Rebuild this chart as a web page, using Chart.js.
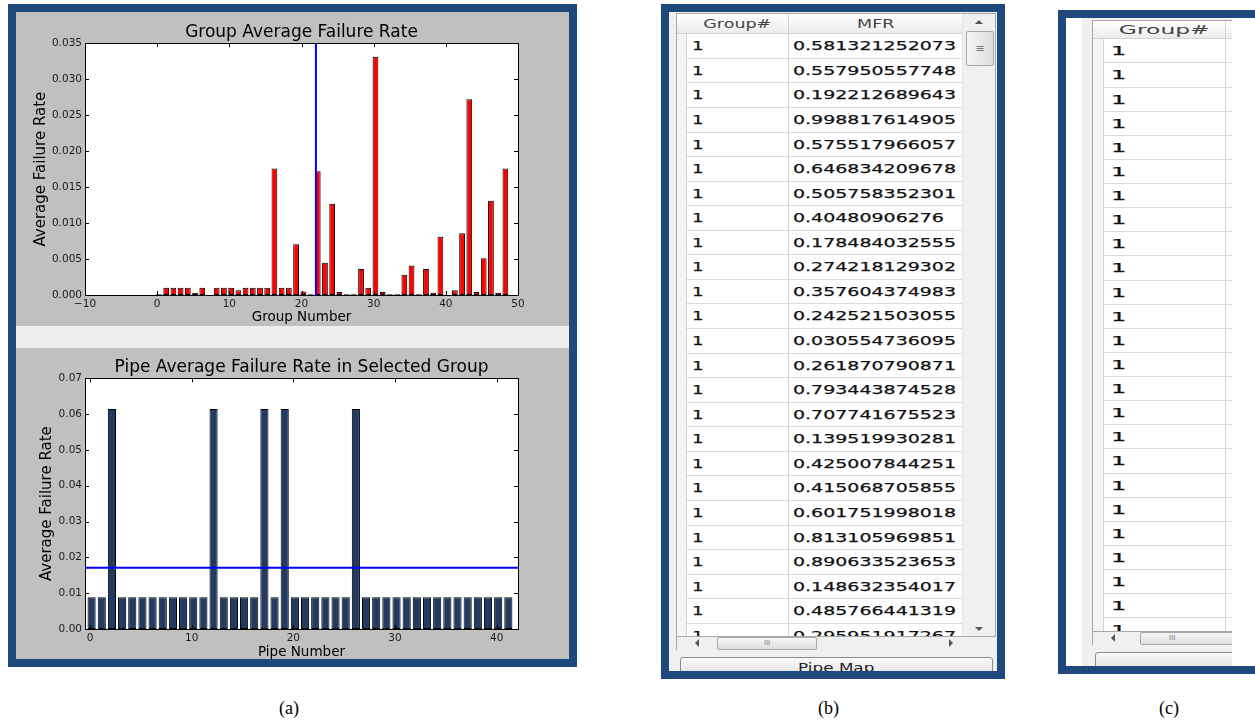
<!DOCTYPE html>
<html>
<head>
<meta charset="utf-8">
<title>Group / pipe average failure rate</title>
<script src="https://cdn.jsdelivr.net/npm/chart.js@4.4.1/dist/chart.umd.min.js"></script>
<style>
  body { margin:0; width:1255px; height:724px; background:#fff; position:relative; overflow:hidden; font-family:"DejaVu Sans", sans-serif; }
  .abs { position:absolute; box-sizing:border-box; }
  .frame { position:absolute; box-sizing:border-box; border:8px solid #1f497d; overflow:hidden; }
  #panelA { left:8px; top:4px; width:569px; height:663px; background:#c0c0c0; }
  #topBox { position:absolute; left:0; top:0; width:553px; height:314px; overflow:hidden; }
  #splitter { position:absolute; left:0; top:314px; width:553px; height:22px; background:#efefef; }
  #botBox { position:absolute; left:0; top:336px; width:553px; height:311px; overflow:hidden; }
  #panelB { left:661px; top:4px; width:344px; height:675px; background:#f0f0f0; }
  #panelC { left:1058px; top:10px; width:205px; height:664px; background:#fff; }
  .hdr { background:linear-gradient(#ffffff, #ececec); border-bottom:1px solid #d2d2d2; }
  .cell { position:absolute; white-space:nowrap; color:#111; -webkit-text-stroke:0.25px #111; }
  .sx { display:inline-block; transform-origin:left center; }
  .sc { display:inline-block; transform-origin:center center; }
  .btn { border:1px solid #8c8c8c; border-radius:3px; background:linear-gradient(#fafafa, #dcdcdc); text-align:center; color:#222; font-size:12px; line-height:20px; }
  .lbl { position:absolute; top:698px; font-family:"Liberation Serif", serif; font-size:18px; color:#000; }
</style>
</head>
<body>
<div id="panelA" class="frame">
  <div id="topBox"><canvas id="groupChart" width="553" height="314" style="width:553px;height:314px"></canvas></div>
  <div id="splitter"></div>
  <div id="botBox"><canvas id="pipeChart" width="553" height="318" style="width:553px;height:318px"></canvas></div>
</div>
<div id="panelB" class="frame"></div>
<div id="panelC" class="frame"></div>
<div class="lbl" style="left:279px">(a)</div>
<div class="lbl" style="left:818px">(b)</div>
<div class="lbl" style="left:1159px">(c)</div>

<script>
// ---- group chart data (top) ----
const groupNums = [0,1,2,3,4,5,6,7,8,9,10,11,12,13,14,15,16,17,18,19,20,21,22,23,24,
  25,26,27,28,29,30,31,32,33,34,35,36,37,38,39,40,41,42,43,44,45,46,47,48];
const groupRate = [0.0001,0.001,0.001,0.001,0.001,0.0003,0.001,0,0.001,0.001,0.001,0.00065,
  0.001,0.001,0.001,0.001,0.0176,0.001,0.001,0.00704,0.0005,0.0001,0.0172,0.0045,0.0127,
  0.0004,0.0001,0.0001,0.0036,0.001,0.0331,0.0004,0.0001,0.0001,0.0028,0.0041,0.0001,0.0036,
  0.0003,0.0081,0,0.00065,0.0086,0.0272,0.0004,0.0051,0.0131,0.0003,0.0176];
const selectedGroup = 22;
const groupXTicks = [-10,0,10,20,30,40,50];
const groupYTicks = [0,0.005,0.01,0.015,0.02,0.025,0.03,0.035];

// ---- pipe chart data (bottom) ----
const pipeNums = [0,1,2,3,4,5,6,7,8,9,10,11,12,13,14,15,16,17,18,19,20,
  21,22,23,24,25,26,27,28,29,30,31,32,33,34,35,36,37,38,39,40,41];
const pipeRate = [0.0089,0.0089,0.0614,0.0089,0.0089,0.0089,0.0089,0.0089,0.0089,0.0089,0.0089,
  0.0089,0.0614,0.0089,0.0089,0.0089,0.0089,0.0614,0.0089,0.0614,0.0089,0.0089,0.0089,0.0089,
  0.0089,0.0089,0.0614,0.0089,0.0089,0.0089,0.0089,0.0089,0.0089,0.0089,0.0089,0.0089,0.0089,
  0.0089,0.0089,0.0089,0.0089,0.0089];
const pipeMean = 0.0171;
const pipeXTicks = [0,10,20,30,40];
const pipeYTicks = [0,0.01,0.02,0.03,0.04,0.05,0.06,0.07];

// ---- table data ----
const tableGroups = [1,1,1,1,1,1,1,1,1,1,1,1,1,1,1,1,1,1,1,1,1,1,1,1,1];
const tableMFR = ['0.581321252073','0.557950557748','0.192212689643','0.998817614905',
  '0.575517966057','0.646834209678','0.505758352301','0.40480906276','0.178484032555',
  '0.274218129302','0.357604374983','0.242521503055','0.030554736095','0.261870790871',
  '0.793443874528','0.707741675523','0.139519930281','0.425007844251','0.415068705855',
  '0.601751998018','0.813105969851','0.890633523653','0.148632354017','0.485766441319',
  '0.295951917267'];

Chart.defaults.font.family = '"DejaVu Sans", sans-serif';
Chart.defaults.color = '#1a1a1a';

const setTicks = list => s => { s.ticks = list.map(v => ({ value: v })); };
const fixWidth = w => s => { s.width = w; };
const fixHeight = h => s => { s.height = h; };
const minusFmt = v => v < 0 ? '\u2212' + Math.abs(v) : String(v);

// white plot area, black frame and inward ticks on all four sides
const mplFrame = {
  id: 'mplFrame',
  beforeDatasetsDraw(chart) {
    const a = chart.chartArea, c = chart.ctx;
    c.save();
    c.fillStyle = '#fff';
    c.fillRect(a.left, a.top, a.right - a.left, a.bottom - a.top);
    c.restore();
  },
  afterDatasetsDraw(chart) {
    const a = chart.chartArea, c = chart.ctx, xs = chart.scales.x, ys = chart.scales.y;
    c.save();
    c.strokeStyle = '#000';
    c.lineWidth = 1;
    c.beginPath();
    xs.ticks.forEach(t => {
      const px = Math.round(xs.getPixelForValue(t.value)) + 0.5;
      c.moveTo(px, a.bottom); c.lineTo(px, a.bottom - 4);
      c.moveTo(px, a.top); c.lineTo(px, a.top + 4);
    });
    ys.ticks.forEach(t => {
      const py = Math.round(ys.getPixelForValue(t.value)) + 0.5;
      c.moveTo(a.left, py); c.lineTo(a.left + 4, py);
      c.moveTo(a.right, py); c.lineTo(a.right - 4, py);
    });
    c.stroke();
    c.strokeRect(Math.round(a.left) + 0.5, Math.round(a.top) + 0.5,
      Math.round(a.right - a.left), Math.round(a.bottom - a.top));
    c.restore();
  }
};

function axisOpts(extra) {
  return Object.assign({
    grid: { display: false, drawTicks: false },
    border: { display: false },
  }, extra);
}

// Top: group average failure rate
new Chart(document.getElementById('groupChart'), {
  type: 'bar',
  data: {
    datasets: [
      { type: 'line', order: 0, data: [{ x: selectedGroup, y: 0 }, { x: selectedGroup, y: groupYTicks[groupYTicks.length - 1] }],
        borderColor: '#0000ff', borderWidth: 2, pointRadius: 0 },
      { type: 'bar', order: 1, data: groupNums.map((g, i) => ({ x: g + 0.25, y: groupRate[i] })),
        backgroundColor: '#ff0000', borderColor: '#000', borderWidth: 1, borderSkipped: false,
        barPercentage: 0.8, categoryPercentage: 1 }
    ]
  },
  options: {
    responsive: false, animation: false,
    layout: { padding: { left: 0, right: 51, top: 0, bottom: 0 } },
    plugins: {
      legend: { display: false }, tooltip: { enabled: false },
      title: { display: true, fullSize: false, text: 'Group Average Failure Rate', color: '#000',
        font: { size: 17, weight: 'normal' }, padding: { top: 10.3, bottom: 0.5 } }
    },
    scales: {
      x: axisOpts({ type: 'linear', min: -10, max: 50, offset: false,
        afterBuildTicks: setTicks(groupXTicks), afterFit: fixHeight(31),
        ticks: { padding: 3, font: { size: 10.5 }, maxRotation: 0, autoSkip: false, callback: minusFmt },
        title: { display: true, text: 'Group Number', color: '#000', font: { size: 13.5 }, padding: { top: 0, bottom: 0 } } }),
      y: axisOpts({ min: 0, max: 0.035,
        afterBuildTicks: setTicks(groupYTicks), afterFit: fixWidth(69),
        ticks: { padding: 3, font: { size: 10.5 }, callback: v => v.toFixed(3) },
        title: { display: true, text: 'Average Failure Rate', color: '#000', font: { size: 15 }, padding: { top: 16, bottom: 0 } } })
    }
  },
  plugins: [mplFrame]
});

// Bottom: pipe average failure rate in selected group
new Chart(document.getElementById('pipeChart'), {
  type: 'bar',
  data: {
    datasets: [
      { type: 'line', order: 0, data: [{ x: -0.5, y: pipeMean }, { x: 42.1, y: pipeMean }],
        borderColor: '#0000ff', borderWidth: 2, pointRadius: 0 },
      { type: 'bar', order: 1, data: pipeNums.map((p, i) => ({ x: p + 0.15, y: pipeRate[i] })),
        backgroundColor: '#233a62', borderColor: '#000', borderWidth: 1, borderSkipped: false,
        barPercentage: 0.8, categoryPercentage: 1 }
    ]
  },
  options: {
    responsive: false, animation: false,
    layout: { padding: { left: 0, right: 51, top: 0, bottom: 0 } },
    plugins: {
      legend: { display: false }, tooltip: { enabled: false },
      title: { display: true, fullSize: false, text: 'Pipe Average Failure Rate in Selected Group', color: '#000',
        font: { size: 17, weight: 'normal' }, padding: { top: 9.3, bottom: 0.6 } }
    },
    scales: {
      x: axisOpts({ type: 'linear', min: -0.5, max: 42.1, offset: false,
        afterBuildTicks: setTicks(pipeXTicks), afterFit: fixHeight(37),
        ticks: { padding: 3, font: { size: 10.5 }, maxRotation: 0, autoSkip: false },
        title: { display: true, text: 'Pipe Number', color: '#000', font: { size: 13.5 }, padding: { top: 0, bottom: 5 } } }),
      y: axisOpts({ min: 0, max: 0.07,
        afterBuildTicks: setTicks(pipeYTicks), afterFit: fixWidth(69),
        ticks: { padding: 3, font: { size: 10.5 }, callback: v => v.toFixed(2) },
        title: { display: true, text: 'Average Failure Rate', color: '#000', font: { size: 15 }, padding: { top: 22, bottom: 0 } } })
    }
  },
  plugins: [mplFrame]
});

// ---- table screenshots (b) and (c) ----
function box(parent, css, html) {
  const d = document.createElement('div');
  d.className = 'abs';
  for (const k in css) d.style[k] = typeof css[k] === 'number' ? css[k] + 'px' : css[k];
  if (html !== undefined) d.innerHTML = html;
  parent.appendChild(d);
  return d;
}
function tri(parent, x, y, dir) {
  const t = box(parent, { left: x, top: y, width: 0, height: 0 });
  const s = '4px solid transparent';
  if (dir === 'up') Object.assign(t.style, { borderLeft: s, borderRight: s, borderBottom: '4px solid #555' });
  if (dir === 'down') Object.assign(t.style, { borderLeft: s, borderRight: s, borderTop: '4px solid #555' });
  if (dir === 'left') Object.assign(t.style, { borderTop: s, borderBottom: s, borderRight: '4px solid #555' });
  if (dir === 'right') Object.assign(t.style, { borderTop: s, borderBottom: s, borderLeft: '4px solid #555' });
}

// (b): inner origin at page (669,12)
const pB = document.getElementById('panelB');
const tB = box(pB, { left: 7, top: 1, width: 320, height: 624, background: '#fff', border: '1px solid #a8a8a8', overflow: 'hidden' });
box(tB, { left: 0, top: 0, width: 285, height: 20 }).className += ' hdr';
box(tB, { left: 0, top: 20, width: 10, height: 610, background: '#f4f4f4', borderRight: '1px solid #d4d4d4' });
box(tB, { left: 111, top: 0, width: 1, height: 624, background: '#d4d4d4' });
const rowB = 24.56;
tableMFR.forEach((m, i) => {
  const top = 20.3 + i * rowB;
  box(tB, { left: 10, top: top + rowB - 1, width: 275, height: 1, background: '#dcdcdc' });
  box(tB, { left: 15, top: top, height: rowB, lineHeight: rowB + 'px', fontSize: '13px' },
    '<span class="sx" style="transform:scaleX(1.4)">' + tableGroups[i] + '</span>').className += ' cell';
  box(tB, { left: 116, top: top, height: rowB, lineHeight: rowB + 'px', fontSize: '13px' },
    '<span class="sx" style="transform:scaleX(1.46)">' + m + '</span>').className += ' cell';
});
box(tB, { left: 10, top: 0, width: 101, height: 20, lineHeight: '20px', fontSize: '12px', color: '#444', textAlign: 'center' },
  '<span class="sc" style="transform:scaleX(1.46)">Group#</span>');
box(tB, { left: 112, top: 0, width: 173, height: 20, lineHeight: '20px', fontSize: '12px', color: '#444', textAlign: 'center' },
  '<span class="sc" style="transform:scaleX(1.46)">MFR</span>');
// vertical scrollbar
const vB = box(tB, { left: 285, top: 0, width: 34, height: 624, background: '#f0f0f0', borderLeft: '1px solid #e2e2e2' });
tri(vB, 12, 6, 'up');
box(vB, { left: 3, top: 17, width: 28, height: 35, border: '1px solid #a8a8a8', borderRadius: '2px',
  background: 'linear-gradient(90deg,#f6f6f6,#dedede)', textAlign: 'center', lineHeight: '33px', fontSize: '11px', color: '#777' }, '\u2261');
tri(vB, 12, 613, 'down');
// horizontal scrollbar and corner
const hB = box(pB, { left: 7, top: 625, width: 286, height: 13, background: '#f0f0f0', borderLeft: '1px solid #a8a8a8' });
tri(hB, 18, 2, 'left');
box(hB, { left: 40, top: 0, width: 100, height: 13, border: '1px solid #a8a8a8', borderRadius: '2px',
  background: 'linear-gradient(#f6f6f6,#dedede)', textAlign: 'center', fontSize: '7px', lineHeight: '11px', color: '#777' }, 'III');
tri(hB, 272, 2, 'right');
box(pB, { left: 293, top: 625, width: 34, height: 13, background: '#f0f0f0' });
box(pB, { left: 11, top: 645, width: 313, height: 24 }, '<span class="sc" style="transform:scaleX(1.4)">Pipe Map</span>').className += ' btn';

// (c): inner origin at page (1066,18)
const pC = document.getElementById('panelC');
const wC = box(pC, { left: 16, top: 0, width: 150, height: 648, background: '#f0f0f0', overflow: 'hidden' });
const tC = box(wC, { left: 10, top: 2, width: 200, height: 612, background: '#fff', border: '1px solid #a8a8a8', overflow: 'hidden' });
box(tC, { left: 0, top: 0, width: 200, height: 18 }).className += ' hdr';
box(tC, { left: 0, top: 18, width: 11, height: 600, background: '#f4f4f4', borderRight: '1px solid #d4d4d4' });
box(tC, { left: 132, top: 0, width: 1, height: 612, background: '#d4d4d4' });
const rowC = 24.125;
tableGroups.forEach((g, i) => {
  const top = 18.3 + i * rowC;
  box(tC, { left: 11, top: top + rowC - 1, width: 190, height: 1, background: '#dcdcdc' });
  box(tC, { left: 18, top: top, height: rowC, lineHeight: rowC + 'px', fontSize: '13px' },
    '<span class="sx" style="transform:scaleX(1.85)">' + g + '</span>').className += ' cell';
});
box(tC, { left: 11, top: 0, width: 121, height: 18, lineHeight: '18px', fontSize: '12px', color: '#444', textAlign: 'center' },
  '<span class="sc" style="transform:scaleX(1.95)">Group#</span>');
const hC = box(wC, { left: 10, top: 614, width: 200, height: 13, background: '#f0f0f0', borderLeft: '1px solid #a8a8a8' });
tri(hC, 18, 2, 'left');
box(hC, { left: 47, top: 0, width: 120, height: 13, border: '1px solid #a8a8a8', borderRadius: '2px',
  background: 'linear-gradient(#f6f6f6,#dedede)', fontSize: '7px', lineHeight: '11px', color: '#777', paddingLeft: '28px' }, 'III');
box(wC, { left: 13, top: 634, width: 200, height: 20 }).className += ' btn';
</script>
</body>
</html>
